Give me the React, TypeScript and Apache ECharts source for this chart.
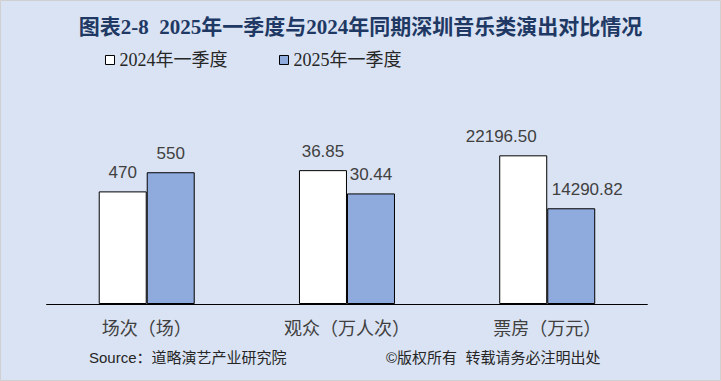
import React, { useEffect, useRef } from "react";
import * as echarts from "echarts";

const categories = ["场次（场）", "观众（万人次）", "票房（万元）"];
const seriesNames = ["2024年一季度", "2025年一季度"];
const values2024 = [470, 36.85, 22196.5];
const values2025 = [550, 30.44, 14290.82];
const labelDecimals = [0, 2, 2];
// each category is drawn on its own value scale (as in the source chart)
const axisMax = [935, 61.67, 33443];
const titleText = "图表2-8  2025年一季度与2024年同期深圳音乐类演出对比情况";
const sourceText = "Source：道略演艺产业研究院";
const copyrightText = "©版权所有  转载请务必注明出处";

const colors = ["#ffffff", "#8faadc"];

export default function App() {
  const ref = useRef<HTMLDivElement>(null);
  useEffect(() => {
    document.body.style.margin = "0";
    const chart = echarts.init(ref.current!, null, { renderer: "svg" });
    const gridLeft0 = 46.6;
    const gridW = 200.25;
    // manual label nudges seen in the source (series index -> category index -> [dx, dy])
    const labelNudge: number[][][] = [
      [[0, 0], [0, 0], [-22, 0]],
      [[0, 0], [0, 0], [16, 0]],
    ];
    const grids = categories.map((_, i) => ({
      left: gridLeft0 + gridW * i,
      width: gridW,
      top: 80,
      bottom: 77,
    }));
    const xAxes = categories.map((c, i) => ({
      type: "category",
      gridIndex: i,
      data: [c],
      axisLine: { lineStyle: { color: "#000", width: 1 } },
      axisTick: { inside: true, length: 5, lineStyle: { color: "#000" } },
      axisLabel: {
        fontSize: 18,
        color: "#404040",
        margin: 14,
        fontFamily: "Noto Sans CJK SC",
      },
    }));
    const yAxes = categories.map((_, i) => ({
      type: "value",
      gridIndex: i,
      min: 0,
      max: axisMax[i],
      show: false,
      splitLine: { show: false },
    }));
    const series: any[] = [];
    categories.forEach((_, i) => {
      [values2024, values2025].forEach((vals, s) => {
        series.push({
          type: "bar",
          name: seriesNames[s],
          xAxisIndex: i,
          yAxisIndex: i,
          data: [{ value: vals[i], label: { offset: labelNudge[s][i] } }],
          barWidth: 48,
          barGap: "0%",
          itemStyle: { color: colors[s], borderColor: "#000", borderWidth: 1 },
          label: {
            show: true,
            position: "top",
            distance: 10,
            fontSize: 17,
            color: "#404040",
            fontFamily: "Liberation Sans",
            formatter: (p: any) => Number(p.value).toFixed(labelDecimals[i]),
          },
        });
      });
    });
    const legendCommon = {
      top: 51,
      padding: 0,
      icon: "rect",
      itemWidth: 9,
      itemHeight: 9,
      itemGap: 10,
      textStyle: {
        fontSize: 18,
        color: "#262626",
        fontFamily: "Liberation Serif, Noto Sans CJK SC",
      },
    };
    chart.setOption({
      animation: false,
      backgroundColor: "#dae3f3",
      title: {
        text: titleText,
        left: "center",
        top: 16,
        padding: 0,
        textStyle: {
          fontSize: 21,
          fontWeight: "bold",
          color: "#203864",
          fontFamily: "Liberation Serif, Noto Sans CJK SC",
        },
      },
      legend: [
        {
          ...legendCommon,
          left: 105,
          data: [
            {
              name: seriesNames[0],
              itemStyle: { color: colors[0], borderColor: "#000", borderWidth: 1 },
            },
          ],
        },
        {
          ...legendCommon,
          left: 279,
          data: [
            {
              name: seriesNames[1],
              itemStyle: { color: colors[1], borderColor: "#000", borderWidth: 1 },
            },
          ],
        },
      ],
      grid: grids,
      xAxis: xAxes,
      yAxis: yAxes,
      series,
      graphic: [
        {
          type: "rect",
          shape: { x: 0.5, y: 0.5, width: 720, height: 380 },
          style: { fill: "none", stroke: "#d0d0d0", lineWidth: 1 },
          silent: true,
        },
        {
          type: "text",
          left: 89,
          top: 350,
          style: {
            text: sourceText,
            fontSize: 15,
            fill: "#262626",
            fontFamily: "Liberation Sans, Noto Sans CJK SC",
          },
        },
        {
          type: "text",
          left: 386,
          top: 350,
          style: {
            text: copyrightText,
            fontSize: 15,
            fill: "#262626",
            fontFamily: "Liberation Sans, Noto Sans CJK SC",
          },
        },
      ],
    });
    return () => chart.dispose();
  }, []);
  return (
    <div
      ref={ref}
      style={{ position: "fixed", left: 0, top: 0, width: 721, height: 381 }}
    />
  );
}
